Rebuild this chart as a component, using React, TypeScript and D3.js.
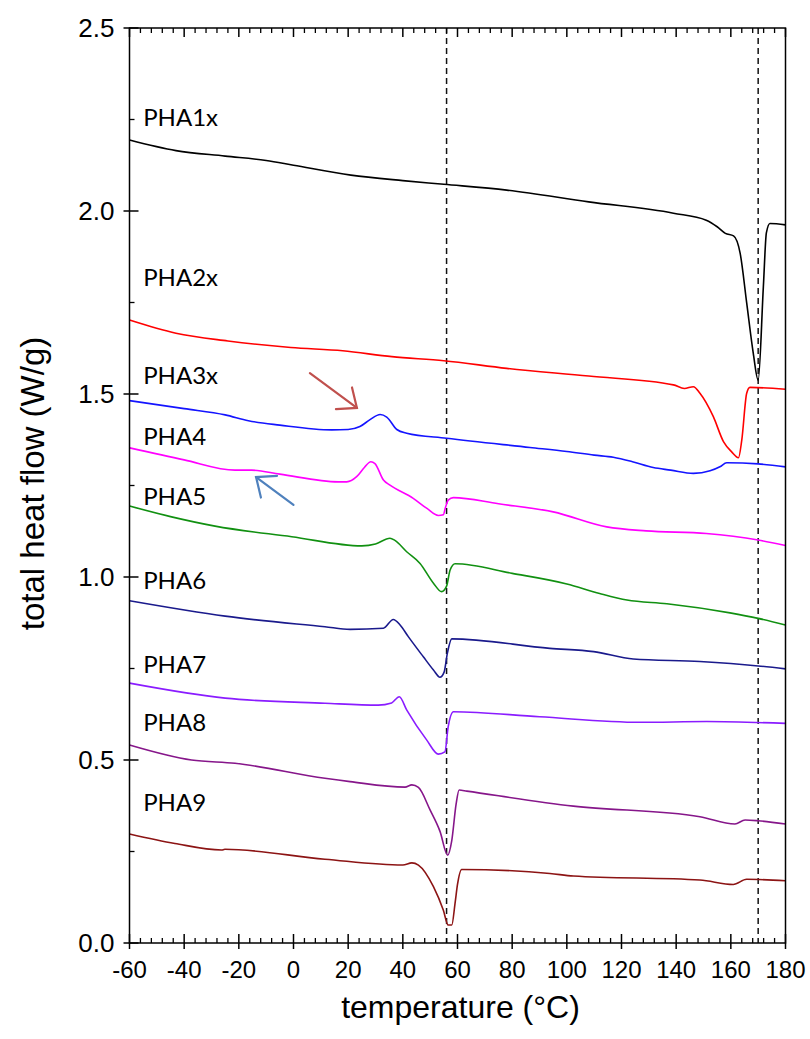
import React from "react";
import * as d3 from "d3";

type Pt = [number, number];

// temperature (°C), total heat flow (W/g)
const pha1x: Pt[] = [[-60,2.194],[-43,2.165],[-25,2.150],[-10,2.138],[0,2.125],[21,2.098],[40,2.083],[55,2.073],[78,2.057],[108,2.025],[139,1.994],[151,1.975],[155,1.957],[158,1.939],[161,1.932],[163.4,1.885],[165.8,1.749],[168.2,1.612],[170,1.538],[171.9,1.793],[173,1.94],[174.3,1.966],[180,1.962]];
const pha2x: Pt[] = [[-60,1.702],[-43,1.666],[-24,1.645],[-1,1.627],[18,1.618],[36,1.602],[55,1.591],[78,1.570],[108,1.549],[139,1.525],[143,1.515],[146.3,1.520],[148.7,1.502],[153.6,1.438],[157.3,1.370],[160.3,1.342],[162.8,1.326],[164,1.374],[165.8,1.502],[167,1.518],[180,1.513]];
const pha3x: Pt[] = [[-60,1.482],[-40,1.46],[-25,1.443],[-16.5,1.427],[-5,1.415],[14,1.402],[20,1.403],[24.3,1.411],[28,1.43],[31.7,1.444],[34.1,1.437],[37.8,1.403],[41.4,1.393],[56,1.379],[86.5,1.354],[100,1.343],[110,1.333],[117,1.327],[124,1.315],[131.6,1.299],[138,1.292],[146.3,1.283],[152.4,1.290],[156,1.301],[158.5,1.312],[170,1.309],[180,1.301]];
const pha4: Pt[] = [[-60,1.353],[-40,1.32],[-21.4,1.292],[-15.3,1.292],[-5,1.281],[16.4,1.260],[19.5,1.260],[23.1,1.274],[26,1.30],[28.3,1.315],[29.8,1.31],[32.9,1.265],[35.3,1.251],[43.8,1.215],[48.7,1.188],[53,1.168],[54.8,1.17],[55.6,1.19],[56.6,1.210],[58.5,1.217],[75,1.20],[95,1.178],[114.6,1.137],[129,1.126],[151,1.119],[170,1.101],[180,1.086]];
const pha5: Pt[] = [[-60,1.194],[-45,1.165],[-28.7,1.139],[-0.65,1.110],[25,1.085],[30,1.09],[35.3,1.106],[37.1,1.10],[41.4,1.069],[46.3,1.037],[51.2,0.983],[54.2,0.960],[56,0.975],[57.3,1.019],[59.1,1.036],[80,1.01],[100,0.981],[112,0.955],[122,0.937],[136.6,0.927],[159.7,0.902],[170,0.887],[180,0.869]];
const pha6: Pt[] = [[-60,0.935],[-25,0.893],[11.5,0.864],[20.7,0.857],[32.9,0.860],[36.5,0.884],[39,0.869],[42,0.837],[47.5,0.782],[51.2,0.746],[53.6,0.726],[55.1,0.74],[56.3,0.792],[57.9,0.831],[93.8,0.805],[109.8,0.796],[124.3,0.776],[148.7,0.769],[170,0.757],[180,0.749]];
const pha7: Pt[] = [[-60,0.710],[-25,0.669],[11.5,0.655],[31,0.650],[35.9,0.656],[38.7,0.673],[41.4,0.637],[48.7,0.555],[53,0.516],[55.4,0.522],[56.6,0.591],[58.5,0.632],[90,0.618],[126.8,0.603],[151.2,0.605],[180,0.600]];
const pha8: Pt[] = [[-60,0.541],[-37.3,0.500],[-21.4,0.491],[11.5,0.450],[20.7,0.441],[40.8,0.426],[43.3,0.432],[45.7,0.425],[50,0.363],[53.6,0.305],[56.4,0.240],[57.9,0.28],[59.5,0.38],[60.6,0.418],[63.4,0.415],[102.4,0.374],[148.7,0.345],[161.5,0.325],[165.2,0.336],[170,0.334],[180,0.325]];
const pha9: Pt[] = [[-60,0.298],[-43.4,0.272],[-26.3,0.254],[-25.1,0.256],[11.5,0.229],[40,0.213],[43.3,0.219],[45.7,0.213],[51.2,0.154],[54.8,0.090],[56.6,0.049],[57.9,0.049],[59.1,0.108],[60,0.16],[61.5,0.201],[93.8,0.19],[102.4,0.183],[148.7,0.172],[160.9,0.160],[165.8,0.174],[180,0.170]];

const seriesNames = ["PHA1x", "PHA2x", "PHA3x", "PHA4", "PHA5", "PHA6", "PHA7", "PHA8", "PHA9"];
const seriesData = [pha1x, pha2x, pha3x, pha4, pha5, pha6, pha7, pha8, pha9];
const seriesColors = ["#000000", "#ff0000", "#1414ff", "#ff00ff", "#119011", "#1a1a8c", "#8a1cff", "#86168a", "#8c1414"];
// label anchor (temperature, heat flow)
const labelX = -55;
const labelY = [2.257, 1.82, 1.552, 1.383, 1.219, 0.992, 0.76, 0.604, 0.383];

const xTicks = d3.range(-60, 181, 20);
const xMinor = d3.range(-60, 181, 4);
const yTicks = [0, 0.5, 1.0, 1.5, 2.0, 2.5];
const yMinor = d3.range(0, 2.51, 0.25);
const dashedTemps = [56, 170];

// arrows: [fromT, fromV, toT, toV]
const arrows: { line: [number, number, number, number]; color: string }[] = [
  { line: [6.0, 1.557, 23.2, 1.462], color: "#c0504d" },
  { line: [0.0, 1.197, -13.7, 1.273], color: "#4f81bd" },
];

const W = 810;
const H = 1039;
const margin = { left: 129.5, right: 24.5, top: 28, bottom: 96 };

const App: React.FC = () => {
  const x = d3.scaleLinear().domain([-60, 180]).range([margin.left, W - margin.right]);
  const y = d3.scaleLinear().domain([0, 2.5]).range([H - margin.bottom, margin.top]);
  const [x0, x1] = x.range();
  const [y0, y1] = y.range();

  const line = d3
    .line<Pt>()
    .x(d => x(d[0]))
    .y(d => y(d[1]))
    .curve(d3.curveMonotoneX);

  const axisFont = "'Liberation Sans', Arial, sans-serif";

  return (
    <svg
      width={W}
      height={H}
      style={{ position: "absolute", left: 0, top: 0, background: "#fff" }}
    >
      {/* dashed reference lines */}
      {dashedTemps.map(t => (
        <line key={t} x1={x(t)} x2={x(t)} y1={y1} y2={y0} stroke="#111" strokeWidth={1.5} strokeDasharray="6,4" />
      ))}

      {/* curves */}
      {seriesData.map((d, i) => (
        <path key={seriesNames[i]} d={line(d) as string} fill="none" stroke={seriesColors[i]} strokeWidth={1.6} />
      ))}

      {/* labels */}
      {seriesNames.map((n, i) => (
        <text key={n} x={x(labelX)} y={y(labelY[i])} dy="0.36em" fontFamily="Lato, 'Open Sans', sans-serif" fontSize={24} fill="#000">
          {n}
        </text>
      ))}

      {/* arrows */}
      {arrows.map((a, i) => {
        const ax1 = x(a.line[0]), ay1 = y(a.line[1]);
        const ax2 = x(a.line[2]), ay2 = y(a.line[3]);
        const ang = Math.atan2(ay2 - ay1, ax2 - ax1);
        const len = 21;
        const spread = (40 * Math.PI) / 180;
        const h1 = [ax2 - len * Math.cos(ang - spread), ay2 - len * Math.sin(ang - spread)];
        const h2 = [ax2 - len * Math.cos(ang + spread), ay2 - len * Math.sin(ang + spread)];
        return (
          <g key={i} stroke={a.color} strokeWidth={2.2} fill="none" strokeLinecap="round">
            <line x1={ax1} y1={ay1} x2={ax2} y2={ay2} />
            <path d={`M${h1[0]},${h1[1]}L${ax2},${ay2}L${h2[0]},${h2[1]}`} />
          </g>
        );
      })}

      {/* frame */}
      <rect x={x0} y={y1} width={x1 - x0} height={y0 - y1} fill="none" stroke="#000" strokeWidth={1.5} />

      {/* x axis ticks */}
      {xMinor.filter(t => !xTicks.includes(t)).map(t => (
        <g key={"xm" + t}>
          <line x1={x(t)} x2={x(t)} y1={y0} y2={y0 - 5} stroke="#000" strokeWidth={1.3} />
          <line x1={x(t)} x2={x(t)} y1={y1} y2={y1 + 5} stroke="#000" strokeWidth={1.3} />
        </g>
      ))}
      {xTicks.map(t => (
        <g key={"x" + t}>
          <line x1={x(t)} x2={x(t)} y1={y0 + 6} y2={y0 - 9} stroke="#000" strokeWidth={1.5} />
          <line x1={x(t)} x2={x(t)} y1={y1} y2={y1 + 9} stroke="#000" strokeWidth={1.5} />
          <text x={x(t)} y={y0 + 35} textAnchor="middle" fontFamily={axisFont} fontSize={24} fill="#000">
            {t}
          </text>
        </g>
      ))}

      {/* y axis ticks */}
      {yMinor.filter(v => !yTicks.some(t => Math.abs(t - v) < 1e-6)).map(v => (
        <line key={"ym" + v} x1={x0} x2={x0 + 5} y1={y(v)} y2={y(v)} stroke="#000" strokeWidth={1.3} />
      ))}
      {yTicks.map(v => (
        <g key={"y" + v}>
          <line x1={x0 - 6} x2={x0 + 9} y1={y(v)} y2={y(v)} stroke="#000" strokeWidth={1.5} />
          <text x={x0 - 15} y={y(v)} dy="0.36em" textAnchor="end" fontFamily={axisFont} fontSize={26} fill="#000">
            {d3.format(".1f")(v)}
          </text>
        </g>
      ))}

      {/* axis titles */}
      <text x={(x0 + x1) / 2 + 3} y={H - 21} textAnchor="middle" fontFamily={axisFont} fontSize={32} fill="#000">
        temperature (°C)
      </text>
      <text
        transform={`translate(${44},${(y0 + y1) / 2 - 2}) rotate(-90)`}
        textAnchor="middle"
        fontFamily={axisFont}
        fontSize={33}
        fill="#000"
      >
        total heat flow (W/g)
      </text>
    </svg>
  );
};

export default App;
